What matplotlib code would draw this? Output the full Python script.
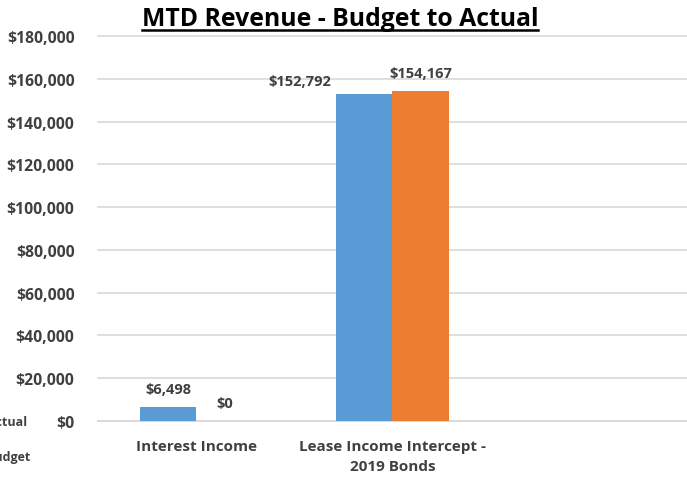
import matplotlib
matplotlib.use("Agg")
import matplotlib.pyplot as plt
from matplotlib.lines import Line2D
from matplotlib.patches import Patch

plt.rcParams['font.family'] = ['Open Sans', 'DejaVu Sans']

# data
categories = ["Interest Income", "Lease Income Intercept -\n2019 Bonds", ""]
actual = [6498, 152792, None]
budget = [0, 154167, None]
y_ticks = list(range(0, 180001, 20000))

blue = "#5B9BD5"
orange = "#ED7D31"
txt = "#404040"

W, H = 687, 481
fig = plt.figure(figsize=(W / 100, H / 100), dpi=100)
ax = fig.add_axes([98 / W, 1 - 422 / H, 1 - 98 / W, (422 - 37) / H])

bw = 0.288
xs = list(range(len(categories)))
for i in xs:
    if actual[i] is not None:
        ax.bar(i - bw / 2, actual[i], bw, color=blue, zorder=3)
    if budget[i] is not None:
        ax.bar(i + bw / 2, budget[i], bw, color=orange, zorder=3)

# data labels (the lease actual label was dragged left in the original)
label_offsets = {(0, 0): (0, 18), (0, 1): (0, 18), (1, 0): (-64, 13), (1, 1): (0, 18)}
for i in xs:
    for s, vals in enumerate([actual, budget]):
        if vals[i] is None:
            continue
        x = i - bw / 2 if s == 0 else i + bw / 2
        dx, dy = label_offsets[(i, s)]
        ax.annotate("${:,.0f}".format(vals[i]), (x, vals[i]), xytext=(dx, dy),
                    textcoords="offset pixels", ha="center", va="center",
                    fontsize=10.5, fontweight="bold", color=txt)

ax.set_xlim(-0.5, len(categories) - 0.5)
ax.set_ylim(0, 180000)
ax.set_yticks(y_ticks)
ax.set_yticklabels(["${:,.0f}".format(v) for v in y_ticks])
ax.set_xticks(xs)
ax.set_xticklabels(categories, linespacing=1.5)
ax.tick_params(axis="y", length=0, pad=17, labelsize=11.3, labelcolor=txt)
ax.tick_params(axis="x", length=0, pad=13, labelsize=11, labelcolor=txt)
for lab in ax.get_xticklabels() + ax.get_yticklabels():
    lab.set_fontweight("bold")
ax.grid(axis="y", color="#D9D9D9", linewidth=1.2, zorder=0)
ax.set_axisbelow(True)
for sp in ["top", "right", "left"]:
    ax.spines[sp].set_visible(False)
ax.spines["bottom"].set_color("#D9D9D9")
ax.spines["bottom"].set_linewidth(1.2)
for gl in ax.get_ygridlines():
    gl.set_clip_on(False)

# title with underline
title = fig.text(340 / W, 1 - 19 / H, "MTD Revenue - Budget to Actual", ha="center",
                 va="center", fontsize=17.8, fontweight="bold", color="black")
fig.canvas.draw()
bb = title.get_window_extent()
fig.add_artist(Line2D([bb.x0 / W, bb.x1 / W], [(bb.y0 + 1) / H, (bb.y0 + 1) / H],
                      color="black", linewidth=1.8))

# legend, pushed partly off the left edge like the original
handles = [Patch(color=blue), Patch(color=orange)]
leg = fig.legend(handles, ["Actual", "Budget"], loc="upper right",
                 bbox_to_anchor=(31 / W, 1 - 416 / H), frameon=False,
                 borderpad=0, borderaxespad=0, labelspacing=1.75,
                 prop={"weight": "bold", "size": 9})
for t in leg.get_texts():
    t.set_color(txt)

fig.savefig("out.png", dpi=100)
